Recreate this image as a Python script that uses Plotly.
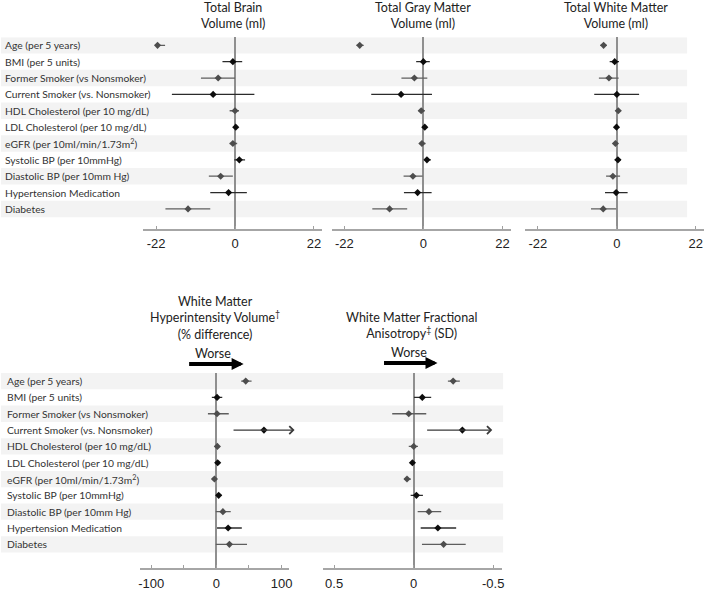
import plotly.graph_objects as go

W, H = 709, 591

labels = ["Age (per 5 years)", "BMI (per 5 units)", "Former Smoker (vs Nonsmoker)",
          "Current Smoker (vs. Nonsmoker)", "HDL Cholesterol (per 10 mg/dL)",
          "LDL Cholesterol (per 10 mg/dL)", "eGFR (per 10ml/min/1.73m<sup>2</sup>)",
          "Systolic BP (per 10mmHg)", "Diastolic BP (per 10mm Hg)",
          "Hypertension Medication", "Diabetes"]

brain_est = [-21.6, -0.6, -4.7, -6.1, 0.0, 0.2, -0.6, 1.2, -4.0, -1.8, -13.1]
brain_lo = [-22.3, -3.5, -9.5, -17.6, -1.5, -0.4, -1.5, -0.2, -7.3, -6.9, -19.4]
brain_hi = [-19.5, 2.0, 0.0, 5.4, 1.1, 0.7, 0.6, 2.8, -0.6, 3.3, -6.9]

gray_est = [-17.7, 0.0, -2.5, -6.2, -0.6, 0.4, -0.4, 1.0, -2.9, -1.6, -9.4]
gray_lo = [-18.6, -2.0, -6.1, -14.5, -1.3, -0.1, -1.1, 0.2, -5.5, -5.4, -14.2]
gray_hi = [-16.6, 1.8, 1.1, 2.4, 0.4, 0.7, 0.6, 2.1, -0.2, 2.3, -4.5]

white_est = [-3.7, -0.6, -2.2, 0.0, 0.4, -0.1, -0.4, 0.3, -1.1, -0.2, -3.8]
white_lo = [-4.6, -2.0, -5.0, -6.3, -0.4, -0.6, -0.9, -0.6, -3.0, -3.3, -7.2]
white_hi = [-2.8, 0.6, 0.5, 6.2, 1.0, 0.4, 0.3, 1.1, 0.9, 3.0, -0.2]

wmh_est = [45, 1, 1, 73, 1.5, 2, -3, 3.5, 10, 18, 20]
wmh_lo = [38, -7, -13, 24, -3, 0, -6, 0, -1, 1, -1]
wmh_hi = [54, 9, 19, 120, 5, 4, 0, 8, 22, 39, 47]
wmh_open = [False, False, False, True, False, False, False, False, False, False, False]

fa_est = [-0.248, -0.054, 0.031, -0.306, 0.0, 0.008, 0.042, -0.017, -0.096, -0.152, -0.188]
fa_lo = [-0.29, -0.11, -0.079, -0.494, -0.027, -0.002, 0.017, -0.058, -0.173, -0.267, -0.327]
fa_hi = [-0.215, -0.002, 0.135, -0.075, 0.031, 0.017, 0.06, 0.019, -0.025, -0.044, -0.052]
fa_open = [False, False, False, True, False, False, False, False, False, False, False]

titles = ["Total Brain<br>Volume (ml)", "Total Gray Matter<br>Volume (ml)",
          "Total White Matter<br>Volume (ml)",
          "White Matter<br>Hyperintensity Volume<sup>†</sup><br>(% difference)",
          "White Matter Fractional<br>Anisotropy<sup>‡</sup> (SD)"]

tick_vals = [[-22, 0, 22], [-22, 0, 22], [-22, 0, 22], [-100, 0, 100], [0.5, 0, -0.5]]
tick_text = [["-22", "0", "22"], ["-22", "0", "22"], ["-22", "0", "22"],
             ["-100", "0", "100"], ["0.5", "0", "-0.5"]]

panels = [
    (brain_est, brain_lo, brain_hi, [False] * 11),
    (gray_est, gray_lo, gray_hi, [False] * 11),
    (white_est, white_lo, white_hi, [False] * 11),
    (wmh_est, wmh_lo, wmh_hi, wmh_open),
    (fa_est, fa_lo, fa_hi, fa_open),
]

# layout geometry (pixels)
x_dom_px = [(143, 323), (333.3, 513.3), (527.3, 706.7), (139.3, 290), (324, 504.3)]
x_ranges = [[-25.6, 24.3], [-25.3, 24.5], [-25.5, 24.2], [-118, 112], [0.569, -0.558]]
top_ydom_px = (37.45, 230.7)
bot_ydom_px = (376.1, 572.7)
top_yrange = [11.21, -0.5]
bot_yrange = [11.44, -0.5]
title_pos = [(233, 16), (424, 16), (618, 16), (215, 321), (413, 328)]

def px(x):
    return x / W

def py(y):
    return 1 - y / H

fig = go.Figure()
n = len(labels)
rows = list(range(n))
dark_rows = [i for i in rows if i % 2 == 0]
light_rows = [i for i in rows if i % 2 == 1]
annotations = []
shapes = []

for k, (est, lo, hi, opn) in enumerate(panels):
    ax_id = "" if k == 0 else str(k + 1)
    for sel, mcol, lcol in [(dark_rows, "#4d4d4d", "#5e5e5e"), (light_rows, "#0d0d0d", "#2b2b2b")]:
        xs = [est[i] for i in sel]
        plus = [0 if opn[i] else hi[i] - est[i] for i in sel]
        minus = [0 if opn[i] else est[i] - lo[i] for i in sel]
        fig.add_trace(go.Scatter(
            x=xs, y=sel, mode="markers",
            marker=dict(symbol="diamond", size=5.5, color=mcol),
            error_x=dict(type="data", symmetric=False, array=plus, arrayminus=minus,
                         color=lcol, thickness=1.3, width=0),
            xaxis="x" + ax_id, yaxis="y" + ax_id, showlegend=False, hoverinfo="skip"))
    # open-ended CI arrows
    for i in rows:
        if opn[i]:
            near, far = (lo[i], hi[i]) if abs(lo[i]) < abs(hi[i]) else (hi[i], lo[i])
            annotations.append(dict(
                x=far, y=i, ax=near, ay=i, xref="x" + ax_id, yref="y" + ax_id,
                axref="x" + ax_id, ayref="y" + ax_id, text="", showarrow=True,
                arrowhead=4, arrowsize=1.3, arrowwidth=1.2, arrowcolor="#3a3a3a",
                standoff=0, startstandoff=0))
    xd = x_dom_px[k]
    ydp = top_ydom_px if k < 3 else bot_ydom_px
    xkey = "xaxis" + ax_id
    ykey = "yaxis" + ax_id
    xa = dict(domain=[px(xd[0]), px(xd[1])], range=x_ranges[k], anchor="y" + ax_id,
              showgrid=False, zeroline=True, zerolinecolor="#8f8f8f", zerolinewidth=1.5,
              showline=True, linecolor="#a6a6a6", linewidth=1.5,
              ticks="inside", ticklen=3, tickcolor="#a0a0a0",
              tickmode="array", tickvals=tick_vals[k], ticktext=tick_text[k],
              tickfont=dict(family="Liberation Sans, Arial", size=13, color="#222"),
              ticklabelstandoff=2 if k < 3 else 3, fixedrange=True)
    if k == 3:
        xa["minor"] = dict(tickvals=[-50, 50], ticks="inside", ticklen=3, tickcolor="#a0a0a0")
    fig.layout[xkey] = xa
    fig.layout[ykey] = dict(domain=[py(ydp[1]), py(ydp[0])],
                            range=top_yrange if k < 3 else bot_yrange,
                            anchor="x" + ax_id, visible=False, fixedrange=True)
    tx, ty = title_pos[k]
    annotations.append(dict(x=px(tx), y=py(ty), xref="paper", yref="paper", text=titles[k],
                            showarrow=False, xanchor="center", yanchor="middle",
                            font=dict(family="Lato, Open Sans", size=12.5, color="#222")))

# shaded row bands
for yref, xend in [("y", 690), ("y4", 505)]:
    for i in dark_rows:
        shapes.append(dict(type="rect", xref="paper", yref=yref, x0=0, x1=px(xend),
                           y0=i - 0.5, y1=i + 0.5, fillcolor="#f3f3f3", line=dict(width=0),
                           layer="below"))

# row labels
for yref, lx in [("y", 2), ("y4", 4)]:
    for i, lab in enumerate(labels):
        annotations.append(dict(x=px(lx), y=i, xref="paper", yref=yref, text=lab,
                                showarrow=False, xanchor="left", yanchor="middle",
                                font=dict(family="Lato, Open Sans", size=10.3, color="#333")))

# "Worse" arrows
for cx, ty, x0, x1, ay in [(213, 357, 188, 244, 367), (410, 356, 384, 439, 366)]:
    annotations.append(dict(x=px(cx), y=py(ty), xref="paper", yref="paper", text="Worse",
                            showarrow=False, xanchor="center", yanchor="middle",
                            font=dict(family="Lato, Open Sans", size=12.5, color="#222")))
    annotations.append(dict(x=px(x1), y=py(ay), xref="paper", yref="paper", text="",
                            showarrow=True, ax=x0 - x1, ay=0, arrowhead=2, arrowsize=0.6,
                            arrowwidth=4, arrowcolor="#000", standoff=0))

fig.update_layout(width=W, height=H, margin=dict(l=0, r=0, t=0, b=0),
                  paper_bgcolor="white", plot_bgcolor="rgba(0,0,0,0)",
                  annotations=annotations, shapes=shapes, showlegend=False)

fig.write_html("out.html", config={"displayModeBar": False},
               post_script="document.body.style.margin='0px';")
